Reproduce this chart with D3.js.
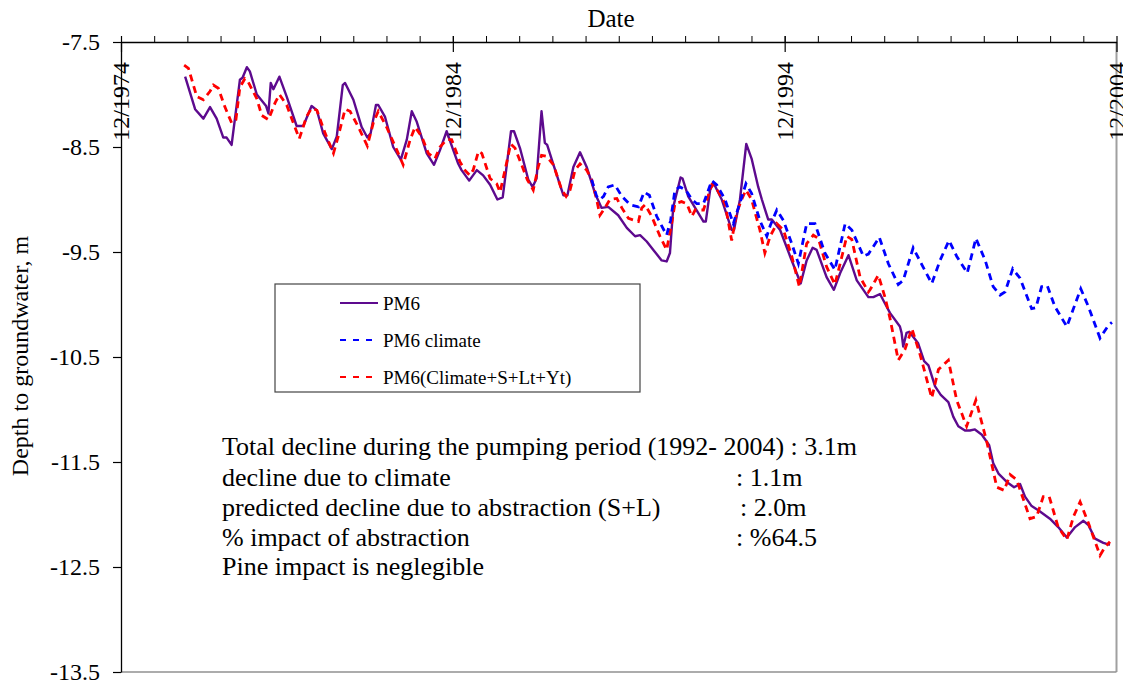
<!DOCTYPE html>
<html>
<head>
<meta charset="utf-8">
<script src="https://cdn.jsdelivr.net/npm/d3@7"></script>
<style>
  html, body { margin: 0; padding: 0; background: #fff; }
  svg { display: block; }
</style>
</head>
<body>
<svg id="chart" width="1123" height="684"></svg>
<script>
// ---------- data (decimal years, depth in m) ----------
const pm6Years = [1976.85,1977.15,1977.40,1977.60,1977.80,1978.00,1978.10,1978.25,1978.50,1978.58,1978.71,1978.80,1979.01,1979.29,1979.36,1979.43,1979.51,1979.69,1979.91,1980.21,1980.41,1980.66,1980.82,1981.01,1981.27,1981.42,1981.60,1981.67,1981.92,1982.17,1982.34,1982.44,1982.60,1982.67,1982.87,1983.12,1983.35,1983.53,1983.68,1983.83,1984.13,1984.35,1984.53,1984.73,1984.93,1985.08,1985.18,1985.41,1985.64,1985.83,1986.04,1986.26,1986.42,1986.67,1986.76,1986.94,1987.19,1987.32,1987.44,1987.59,1987.69,1987.76,1987.95,1988.25,1988.37,1988.55,1988.75,1988.95,1989.20,1989.40,1989.60,1989.90,1990.16,1990.41,1990.56,1990.76,1990.96,1991.21,1991.36,1991.46,1991.56,1991.78,1991.84,1992.01,1992.22,1992.47,1992.54,1992.67,1992.77,1993.02,1993.32,1993.39,1993.57,1993.76,1993.92,1994.12,1994.23,1994.42,1994.53,1994.78,1995.08,1995.40,1995.58,1995.76,1995.88,1996.18,1996.40,1996.59,1996.84,1997.09,1997.44,1997.59,1997.79,1997.94,1998.09,1998.39,1998.44,1998.49,1998.59,1998.67,1998.94,1999.12,1999.25,1999.45,1999.62,1999.85,2000.00,2000.15,2000.35,2000.50,2000.65,2000.86,2001.08,2001.20,2001.36,2001.61,2001.83,2002.01,2002.16,2002.36,2002.56,2002.91,2003.16,2003.42,2003.67,2003.92,2004.07,2004.27,2004.52,2004.72];
const pm6Depth = [-7.83,-8.14,-8.23,-8.12,-8.23,-8.41,-8.41,-8.48,-7.86,-7.84,-7.74,-7.78,-8.00,-8.11,-8.18,-7.89,-7.95,-7.83,-8.02,-8.30,-8.30,-8.11,-8.15,-8.37,-8.52,-8.40,-7.91,-7.89,-8.05,-8.31,-8.41,-8.37,-8.10,-8.10,-8.21,-8.50,-8.62,-8.43,-8.16,-8.26,-8.56,-8.67,-8.53,-8.35,-8.53,-8.66,-8.72,-8.82,-8.72,-8.77,-8.86,-9.00,-8.98,-8.35,-8.35,-8.51,-8.81,-8.88,-8.80,-8.16,-8.46,-8.48,-8.67,-8.96,-8.96,-8.69,-8.55,-8.69,-8.94,-9.08,-9.07,-9.15,-9.27,-9.35,-9.34,-9.40,-9.48,-9.58,-9.59,-9.51,-9.07,-8.79,-8.80,-8.97,-9.08,-9.21,-9.21,-8.91,-8.84,-9.00,-9.29,-9.29,-9.00,-8.47,-8.61,-8.88,-9.00,-9.19,-9.19,-9.29,-9.54,-9.80,-9.58,-9.46,-9.48,-9.74,-9.86,-9.70,-9.53,-9.77,-9.93,-9.93,-9.90,-9.99,-10.08,-10.21,-10.27,-10.40,-10.27,-10.26,-10.37,-10.54,-10.58,-10.78,-10.86,-10.93,-11.07,-11.16,-11.20,-11.20,-11.19,-11.24,-11.34,-11.51,-11.61,-11.69,-11.74,-11.71,-11.83,-11.92,-11.96,-12.04,-12.12,-12.22,-12.12,-12.06,-12.10,-12.23,-12.27,-12.29];

const climYears = [1989.10,1989.25,1989.35,1989.46,1989.60,1989.80,1990.01,1990.26,1990.51,1990.68,1990.84,1991.06,1991.36,1991.48,1991.61,1991.76,1991.94,1992.12,1992.27,1992.47,1992.72,1992.87,1993.12,1993.37,1993.52,1993.75,1993.92,1994.17,1994.38,1994.48,1994.68,1994.88,1995.13,1995.33,1995.58,1995.83,1996.13,1996.43,1996.74,1996.94,1997.29,1997.44,1997.77,1998.04,1998.34,1998.49,1998.79,1999.05,1999.35,1999.60,1999.87,2000.10,2000.42,2000.68,2000.96,2001.20,2001.41,2001.56,2001.79,2002.01,2002.36,2002.49,2002.66,2002.83,2003.06,2003.42,2003.84,2004.07,2004.42,2004.67,2004.78];
const climDepth = [-8.81,-8.97,-9.00,-8.97,-8.88,-8.86,-8.97,-9.05,-9.07,-8.93,-8.96,-9.16,-9.34,-9.20,-8.91,-8.88,-8.91,-9.00,-9.04,-9.04,-8.82,-8.86,-9.00,-9.23,-9.08,-8.85,-8.94,-9.20,-9.35,-9.25,-9.10,-9.20,-9.42,-9.61,-9.23,-9.23,-9.51,-9.67,-9.23,-9.29,-9.54,-9.52,-9.36,-9.61,-9.81,-9.77,-9.46,-9.62,-9.80,-9.58,-9.39,-9.54,-9.70,-9.37,-9.58,-9.83,-9.91,-9.88,-9.66,-9.75,-10.04,-10.03,-9.83,-9.82,-10.02,-10.21,-9.85,-10.02,-10.32,-10.20,-10.17];

const fullYears = [1976.82,1976.95,1977.20,1977.40,1977.60,1977.70,1977.85,1978.05,1978.25,1978.38,1978.50,1978.65,1978.75,1979.01,1979.16,1979.36,1979.56,1979.69,1979.91,1980.11,1980.29,1980.51,1980.66,1980.82,1981.07,1981.32,1981.47,1981.67,1981.82,1982.07,1982.34,1982.52,1982.67,1982.92,1983.23,1983.42,1983.63,1983.78,1983.98,1984.18,1984.38,1984.53,1984.73,1984.88,1985.13,1985.28,1985.43,1985.53,1985.69,1985.79,1986.04,1986.24,1986.34,1986.49,1986.66,1986.79,1986.99,1987.16,1987.34,1987.49,1987.59,1987.75,1987.95,1988.20,1988.33,1988.45,1988.60,1988.75,1988.95,1989.10,1989.25,1989.35,1989.50,1989.65,1989.86,1990.01,1990.21,1990.51,1990.61,1990.71,1990.91,1991.16,1991.36,1991.51,1991.61,1991.81,1991.97,1992.12,1992.22,1992.47,1992.72,1992.87,1993.12,1993.32,1993.47,1993.62,1993.75,1993.92,1994.17,1994.32,1994.48,1994.68,1994.88,1995.13,1995.36,1995.58,1995.78,1995.93,1996.18,1996.43,1996.59,1996.79,1996.94,1997.19,1997.44,1997.49,1997.74,1997.94,1998.09,1998.34,1998.54,1998.75,1999.00,1999.35,1999.55,1999.85,2000.10,2000.40,2000.68,2001.01,2001.31,2001.53,2001.71,2001.91,2002.31,2002.51,2002.71,2002.89,2003.16,2003.42,2003.62,2003.82,2004.07,2004.42,2004.57,2004.72];
const fullDepth = [-7.72,-7.75,-8.02,-8.05,-7.97,-7.91,-7.94,-8.12,-8.27,-8.24,-7.93,-7.85,-7.88,-8.04,-8.20,-8.24,-8.08,-8.00,-8.10,-8.27,-8.42,-8.21,-8.13,-8.15,-8.37,-8.56,-8.39,-8.14,-8.16,-8.31,-8.49,-8.27,-8.16,-8.31,-8.53,-8.67,-8.43,-8.31,-8.40,-8.56,-8.61,-8.50,-8.43,-8.43,-8.64,-8.72,-8.77,-8.72,-8.54,-8.56,-8.80,-8.85,-8.93,-8.72,-8.47,-8.51,-8.67,-8.81,-8.91,-8.69,-8.58,-8.59,-8.67,-8.91,-8.97,-8.91,-8.72,-8.66,-8.72,-8.81,-9.00,-9.15,-9.08,-9.00,-8.99,-9.08,-9.18,-9.21,-9.08,-9.05,-9.16,-9.35,-9.48,-9.23,-9.04,-9.02,-9.04,-9.16,-9.10,-9.10,-8.86,-8.90,-9.04,-9.39,-9.13,-9.00,-8.91,-9.00,-9.29,-9.51,-9.35,-9.23,-9.29,-9.54,-9.83,-9.42,-9.34,-9.37,-9.64,-9.81,-9.61,-9.35,-9.38,-9.74,-9.88,-9.86,-9.72,-9.93,-10.13,-10.53,-10.43,-10.23,-10.48,-10.89,-10.62,-10.53,-10.91,-11.16,-10.91,-11.31,-11.74,-11.77,-11.62,-11.67,-12.04,-12.02,-11.83,-11.83,-12.12,-12.24,-12.02,-11.88,-12.08,-12.39,-12.31,-12.26];

const seriesNames = ["PM6", "PM6 climate", "PM6(Climate+S+Lt+Yt)"];
const yTicks = [-7.5, -8.5, -9.5, -10.5, -11.5, -12.5, -13.5];
const majorTickYears = [1974, 1984, 1994, 2004];
const majorTickLabels = ["12/1974", "12/1984", "12/1994", "12/2004"];
const xTitle = "Date";
const yTitle = "Depth to groundwater, m";
const noteLines = [
  "Total decline during the pumping period (1992- 2004) : 3.1m",
  "decline due to climate",
  "predicted decline due to abstraction (S+L)",
  "% impact of abstraction",
  "Pine impact is neglegible"
];
const noteValues = [null, ": 1.1m", ": 2.0m", ": %64.5", null];

// ---------- layout ----------
const svg = d3.select("#chart");
const plotL = 121, plotR = 1116.5, plotT = 42, plotB = 672;
const dec = 0.917;
const x = d3.scaleLinear().domain([1974 + dec, 2004 + dec]).range([plotL, plotR]);
const y = d3.scaleLinear().domain([-7.5, -13.5]).range([plotT, plotB]);
const serifFam = "Liberation Serif, serif";

// right & bottom frame (gray)
svg.append("line").attr("x1", plotR).attr("x2", plotR).attr("y1", plotT).attr("y2", plotB)
  .attr("stroke", "#a0a0a0").attr("stroke-width", 2);
svg.append("line").attr("x1", plotL).attr("x2", plotR).attr("y1", plotB).attr("y2", plotB)
  .attr("stroke", "#909090").attr("stroke-width", 1.5);

// top axis: minor ticks every year
const allYearTicks = d3.range(1975, 2004).map(yr => yr + dec);
const topAxis = d3.axisTop(x).tickValues(allYearTicks).tickSize(6).tickSizeOuter(0).tickFormat("");
const gTop = svg.append("g").attr("transform", `translate(0,${plotT})`).call(topAxis);
gTop.select(".domain").attr("stroke", "#000").attr("stroke-width", 1.3);
gTop.selectAll(".tick line").attr("stroke", "#000").attr("stroke-width", 1);

// major ticks crossing axis
const majorVals = majorTickYears.map(yr => yr + dec);
const majorAxis = d3.axisBottom(x).tickValues(majorVals).tickSize(10).tickSizeOuter(0).tickFormat("");
const gMaj = svg.append("g").attr("transform", `translate(0,${plotT})`).call(majorAxis);
gMaj.select(".domain").remove();
gMaj.selectAll(".tick line").attr("stroke", "#000").attr("stroke-width", 1.2);
const majorUp = d3.axisTop(x).tickValues(majorVals).tickSize(6).tickSizeOuter(0).tickFormat("");
const gMajU = svg.append("g").attr("transform", `translate(0,${plotT})`).call(majorUp);
gMajU.select(".domain").remove();
gMajU.selectAll(".tick line").attr("stroke", "#000").attr("stroke-width", 1.2);

// rotated date labels
svg.append("g").selectAll("text").data(majorTickYears).join("text")
  .attr("transform", (d) => `translate(${x(d + dec)},62) rotate(-90)`)
  .attr("text-anchor", "end")
  .attr("dy", "0.35em")
  .attr("font-size", 24)
  .style("font-family", serifFam)
  .attr("fill", "#000")
  .text((d, i) => majorTickLabels[i]);

// x title
svg.append("text").attr("x", 611).attr("y", 27).attr("text-anchor", "middle")
  .attr("font-size", 25).style("font-family", serifFam).attr("fill", "#000").text(xTitle);

// left axis
const leftAxis = d3.axisLeft(y).tickValues(yTicks).tickSize(8).tickSizeOuter(0).tickPadding(13)
  .tickFormat(d => d.toFixed(1));
const gLeft = svg.append("g").attr("transform", `translate(${plotL},0)`).call(leftAxis);
gLeft.select(".domain").attr("stroke", "#000").attr("stroke-width", 1.3);
gLeft.selectAll(".tick line").attr("stroke", "#000").attr("stroke-width", 1.2);
gLeft.selectAll(".tick text").attr("font-size", 24).style("font-family", serifFam).attr("fill", "#000");

// y title
svg.append("text").attr("transform", `translate(28,356) rotate(-90)`)
  .attr("text-anchor", "middle").attr("font-size", 24).style("font-family", serifFam)
  .attr("fill", "#000").text(yTitle);

// ---------- lines ----------
const line = d3.line().x(d => x(d[0])).y(d => y(d[1])).curve(d3.curveLinear);
const pm6Data = pm6Years.map((yr, i) => [yr, pm6Depth[i]]);
const climData = climYears.map((yr, i) => [yr, climDepth[i]]);
const fullData = fullYears.map((yr, i) => [yr, fullDepth[i]]);

const styles = [
  { color: "#5d0a8e", width: 2.4, dash: null },
  { color: "#0000ff", width: 2.8, dash: "7,5" },
  { color: "#ff0000", width: 2.8, dash: "7,5" }
];

svg.append("path").datum(pm6Data).attr("d", line).attr("fill", "none")
  .attr("stroke", styles[0].color).attr("stroke-width", styles[0].width).attr("stroke-linejoin", "round");
svg.append("path").datum(fullData).attr("d", line).attr("fill", "none")
  .attr("stroke", styles[2].color).attr("stroke-width", styles[2].width).attr("stroke-dasharray", styles[2].dash);
svg.append("path").datum(climData).attr("d", line).attr("fill", "none")
  .attr("stroke", styles[1].color).attr("stroke-width", styles[1].width).attr("stroke-dasharray", styles[1].dash);

// ---------- legend ----------
const lg = svg.append("g");
lg.append("rect").attr("x", 275).attr("y", 284).attr("width", 365).attr("height", 108)
  .attr("fill", "#fff").attr("stroke", "#444").attr("stroke-width", 1.2);
const rowsY = [303, 340, 377];
seriesNames.forEach((name, i) => {
  const st = styles[i];
  lg.append("line").attr("x1", 340).attr("x2", 378).attr("y1", rowsY[i]).attr("y2", rowsY[i])
    .attr("stroke", st.color).attr("stroke-width", 2.2)
    .attr("stroke-dasharray", st.dash ? "6,7" : null);
  lg.append("text").attr("x", 383).attr("y", rowsY[i]).attr("dy", "0.35em")
    .attr("font-size", 19).style("font-family", serifFam).attr("fill", "#000").text(name);
});

// ---------- annotation ----------
const noteBase = [455, 486, 516, 546, 575];
const noteValX = [null, 736, 740, 736, null];
const ng = svg.append("g");
noteLines.forEach((t, i) => {
  ng.append("text").attr("x", 222).attr("y", noteBase[i]).attr("font-size", 26)
    .style("font-family", serifFam).attr("fill", "#000").text(t);
  if (noteValues[i]) ng.append("text").attr("x", noteValX[i]).attr("y", noteBase[i]).attr("font-size", 26)
    .style("font-family", serifFam).attr("fill", "#000").text(noteValues[i]);
});
</script>
</body>
</html>
